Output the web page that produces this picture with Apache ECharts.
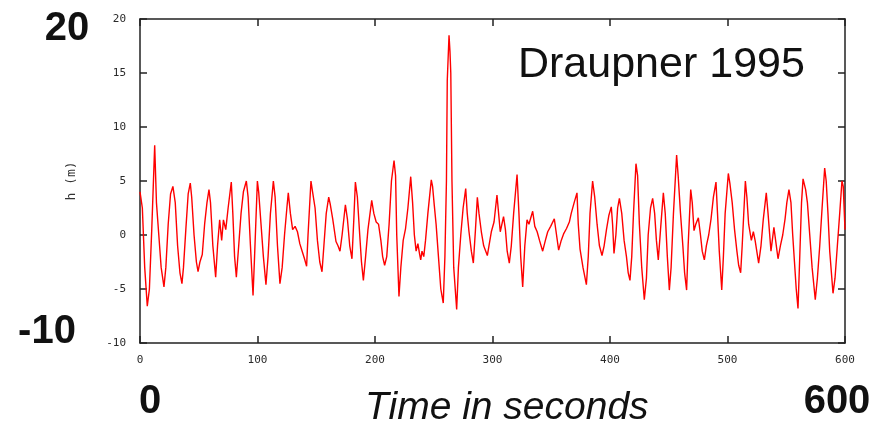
<!DOCTYPE html>
<html>
<head>
<meta charset="utf-8">
<script src="https://cdn.jsdelivr.net/npm/echarts@6/dist/echarts.min.js"></script>
<style>
html,body{margin:0;padding:0;background:#fff;}
#chart{width:875px;height:429px;}
</style>
</head>
<body>
<div id="chart"></div>
<script>
// Time in seconds
const timeSec = [
0,2,4,6.2,8,10,12.5,14,16,18,20.4,22,24,26,28,30,32,34,35.7,37,39,41,42.8,44,46,48,49.4,51,53,55,57,58.7,60,62,64.4,66,67.8,69.5,71,73,75,77.7,79,80.5,82,84,86,88,90.5,92,94,96.2,97.5,99.9,
101,103,105,107.2,109,111,113.5,115,117,119.1,121,123,125,126.2,128,129.9,132,134,136,138,140,141.8,143,145.5,147,149,151,153,154.9,156.5,158.5,160.6,162,164,166.8,168.5,170.2,172,174.8,176.5,178.5,180.4,182,183.3,185,187,188.5,190.1,192,194,197.2,199,
201,203,205,206.5,208.2,210,212,214,216.2,217.5,218.5,220.4,222,224,226,228,230.4,232,233.5,235,236.5,238,238.9,240,241.5,243,245,247.9,249,250.5,252,254,256,258.1,259.5,260.8,261.5,263,263.8,264.5,265.5,267,269.5,271,273,275,277.2,278.5,280,282,283.7,285.5,287.1,288.5,290.5,292.5,295.6,297,299,
301.3,303.8,305.2,306.6,309.4,311,312.5,314.3,316,318,320.9,322.5,324,325.7,327.5,329.4,331,334.2,336,338,340,342.7,345,347,349.5,352.6,354.5,356.3,358.5,360.5,363,365.4,367,369.5,371.9,373,374.5,377,379.9,381.5,383,385.2,387,389,391,393.2,395,397,399,
401.1,402.2,403.4,405,406.5,408,410,412,414,415.5,417,418.5,420,422.1,423.5,425,427,429.2,431,432.5,434.5,436.3,438,439.5,441.1,443,445.4,447,448.8,450.5,452,454,456.7,458,460,462,463.5,465.2,466.5,468.7,470,471.5,473,475.2,477,478.5,480.3,482,484,486,488,490.2,491.5,493,495.1,496.5,498,
500.7,502,504,506,508,509.5,511.2,512.5,515.2,516.5,518,520.3,522,523.5,526.5,528.5,530.5,533,534.5,537,539.5,543,545,547,549,550.5,552.3,554,555.5,557,558.5,560,561.5,563,564.3,566.5,568,570,572,574.7,576.5,578.5,580.5,582.7,584,585.5,587,589.8,591.5,593.5,595.5,597.4,598.5,600
];
// Wave height h (m)
const heightM = [
4.0,2.5,-3,-6.6,-5,0.5,8.3,3,0,-3,-4.8,-3,1,3.8,4.5,3,-1,-3.5,-4.5,-3,0.5,3.8,4.8,3.5,0,-2.5,-3.4,-2.5,-1.8,1,3,4.2,3,-1,-3.9,-1,1.4,-0.5,1.4,0.5,2.5,4.9,2,-2,-3.9,-1,2,4,5.0,3.5,-1,-5.6,-2,5.0,
4,1,-2,-4.6,-2,2,5.0,3.5,-1,-4.5,-3,0,2.5,3.9,2,0.5,0.8,0.3,-0.8,-1.5,-2.2,-2.9,0,5.0,3.9,2.5,-0.5,-2.5,-3.4,-1,2,3.5,2.8,1.5,-0.6,-1,-1.5,0,2.8,1.5,-1,-2.2,1.5,4.9,3.5,0,-2.5,-4.2,-2,0.5,3.2,2,
1.2,1.0,-0.5,-2,-2.8,-2,1,5,6.9,5.5,0,-5.7,-3,-0.5,0.6,2.5,5.4,3,0,-1.5,-0.8,-1.8,-2.3,-1.5,-2,-0.5,2,5.1,4.5,2.7,1,-2,-5,-6.3,-2,5,14.3,18.5,17,15,5,-3,-6.9,-3,0,2.5,4.3,2,0.3,-1.5,-2.6,0.5,3.5,2,0.3,-1,-1.9,-1,0.3,
1.2,3.7,2,0.3,1.7,0.5,-1.5,-2.6,-1,2,5.6,2,-2,-4.8,-1,1.4,1,2.2,0.8,0.3,-0.5,-1.5,-0.5,0.3,0.8,1.5,0,-1.4,-0.5,0.1,0.6,1.2,2,3,3.9,1,-1.3,-3,-4.6,-2,2,5.0,3.5,1,-1,-1.9,-1,0.5,1.8,
2.6,1,-1.7,0,2.5,3.4,2,-0.5,-2,-3.5,-4.2,-2,2,6.6,5.5,1,-3,-6.0,-4,0,2.5,3.4,2,-0.5,-2.3,0.5,3.9,2,-2,-5.1,-3,2,7.4,5.5,2,-1,-3.5,-5.1,-1,4.2,3,0.4,1,1.6,0,-1.5,-2.3,-1,0,1.5,3.5,4.9,2,-1.5,-5.1,-2,2,
5.7,4.8,3,0.5,-1.5,-2.8,-3.5,-1,5.0,3.5,1,-0.5,0.3,-0.5,-2.6,-1,1.5,3.9,2,-1.5,0.7,-2.2,-1,0,1.5,3,4.2,3,0,-2.5,-5,-6.8,-2,3,5.2,4.2,3,0,-3,-6.0,-4,-1,2.5,6.2,5,2,-1.5,-5.4,-4,-1,2,5.0,4.5,0.5
];
const xTicks = {min: 0, max: 600, step: 100};
const yTicks = {min: -10, max: 20, step: 5};
const yAxisName = 'h (m)';
const bigLabels = {top: '20', bottom: '-10', left: '0', right: '600'};
const xTitle = 'Time in seconds';
const chartTitle = 'Draupner 1995';

const seriesData = timeSec.map((t, i) => [t, heightM[i]]);

const axisColor = '#222';
const labelStyle = {fontFamily: 'DejaVu Sans Mono', fontSize: 11, color: '#2a2a2a'};

const chart = echarts.init(document.getElementById('chart'), null, {renderer: 'canvas'});
chart.setOption({
  animation: false,
  backgroundColor: '#ffffff',
  grid: {left: 140, right: 30, top: 19, bottom: 86},
  xAxis: [
    {type: 'value', min: xTicks.min, max: xTicks.max, interval: xTicks.step, position: 'bottom',
     axisLine: {show: true, onZero: false, lineStyle: {color: axisColor, width: 1.5}},
     axisTick: {show: true, inside: true, length: 7, lineStyle: {color: axisColor, width: 1.5}},
     axisLabel: Object.assign({margin: 12}, labelStyle),
     splitLine: {show: false}},
    {type: 'value', min: xTicks.min, max: xTicks.max, interval: xTicks.step, position: 'top',
     axisLine: {show: true, onZero: false, lineStyle: {color: axisColor, width: 1.5}},
     axisTick: {show: true, inside: true, length: 7, lineStyle: {color: axisColor, width: 1.5}},
     axisLabel: {show: false}, splitLine: {show: false}}
  ],
  yAxis: [
    {type: 'value', min: yTicks.min, max: yTicks.max, interval: yTicks.step, position: 'left',
     name: yAxisName, nameLocation: 'middle', nameGap: 62, nameRotate: 90,
     nameTextStyle: {fontFamily: 'DejaVu Sans Mono', fontSize: 13, color: '#333'},
     axisLine: {show: true, onZero: false, lineStyle: {color: axisColor, width: 1.5}},
     axisTick: {show: true, inside: true, length: 7, lineStyle: {color: axisColor, width: 1.5}},
     axisLabel: Object.assign({margin: 14}, labelStyle),
     splitLine: {show: false}},
    {type: 'value', min: yTicks.min, max: yTicks.max, interval: yTicks.step, position: 'right',
     axisLine: {show: true, onZero: false, lineStyle: {color: axisColor, width: 1.5}},
     axisTick: {show: true, inside: true, length: 7, lineStyle: {color: axisColor, width: 1.5}},
     axisLabel: {show: false}, splitLine: {show: false}}
  ],
  series: [{
    type: 'line', data: seriesData, showSymbol: false, symbol: 'none',
    lineStyle: {color: '#ff0000', width: 1.4}, xAxisIndex: 0, yAxisIndex: 0
  }],
  graphic: [
    {type: 'text', x: 67, y: 29, style: {text: bigLabels.top, font: 'bold 40px "Liberation Sans", Arial, sans-serif', fill: '#111', align: 'center', verticalAlign: 'middle'}},
    {type: 'text', x: 47, y: 332, style: {text: bigLabels.bottom, font: 'bold 40px "Liberation Sans", Arial, sans-serif', fill: '#111', align: 'center', verticalAlign: 'middle'}},
    {type: 'text', x: 150, y: 402, style: {text: bigLabels.left, font: 'bold 40px "Liberation Sans", Arial, sans-serif', fill: '#111', align: 'center', verticalAlign: 'middle'}},
    {type: 'text', x: 837, y: 402, style: {text: bigLabels.right, font: 'bold 40px "Liberation Sans", Arial, sans-serif', fill: '#111', align: 'center', verticalAlign: 'middle'}},
    {type: 'text', x: 365, y: 408, style: {text: xTitle, font: 'italic 39px "Liberation Sans", Arial, sans-serif', fill: '#111', align: 'left', verticalAlign: 'middle'}},
    {type: 'text', x: 518, y: 65, style: {text: chartTitle, font: '43px "Liberation Sans", Arial, sans-serif', fill: '#111', align: 'left', verticalAlign: 'middle'}}
  ]
});
</script>
</body>
</html>
